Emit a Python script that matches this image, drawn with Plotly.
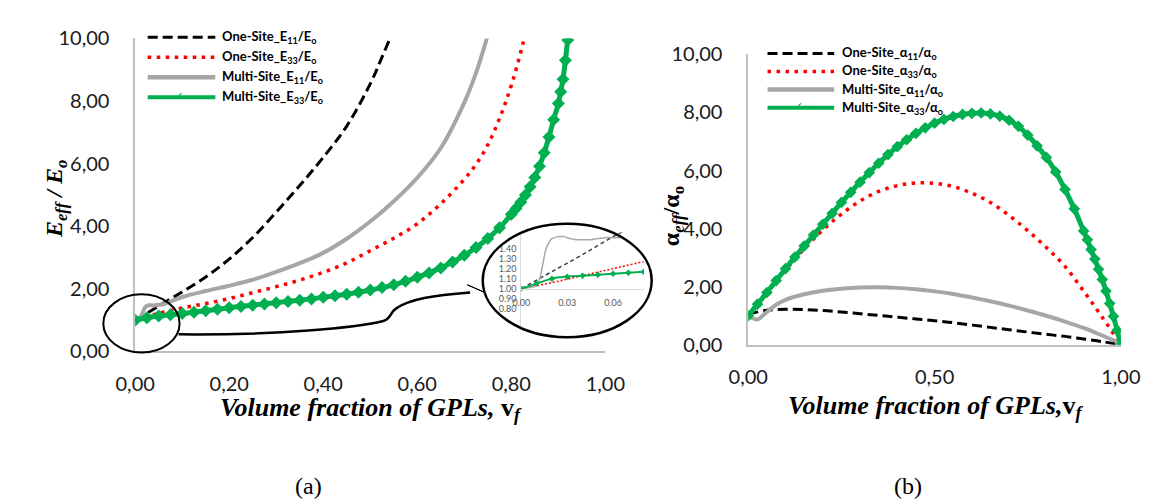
import plotly.graph_objects as go

W, H = 1158, 504

# ---------------- (a) effective Young's modulus ----------------
a_v_os11 = [0, 0.025, 0.05, 0.075, 0.1, 0.15, 0.2, 0.25, 0.3, 0.35, 0.4, 0.45, 0.5, 0.525, 0.55, 0.56]
a_os11 = [1.00, 1.22, 1.45, 1.68, 1.90, 2.38, 2.95, 3.64, 4.45, 5.30, 6.20, 7.20, 8.55, 9.40, 10.30, 10.70]

a_v_os33 = [0, 0.05, 0.1, 0.15, 0.2, 0.25, 0.3, 0.35, 0.4, 0.45, 0.5, 0.55, 0.6, 0.65, 0.7,
            0.725, 0.75, 0.775, 0.8, 0.825, 0.84]
a_os33 = [1.00, 1.22, 1.39, 1.53, 1.69, 1.88, 2.07, 2.28, 2.53, 2.83, 3.22, 3.62, 4.08, 4.72, 5.50,
          5.98, 6.60, 7.45, 8.50, 9.85, 10.80]

a_v_ms11 = [0, 0.005, 0.01, 0.015, 0.02, 0.025, 0.03, 0.04, 0.05, 0.06, 0.1, 0.15, 0.2, 0.25, 0.3,
            0.35, 0.4, 0.45, 0.5, 0.55, 0.6, 0.65, 0.7, 0.725, 0.75, 0.76]
a_ms11 = [1.00, 1.01, 1.05, 1.20, 1.38, 1.46, 1.48, 1.47, 1.49, 1.51, 1.74, 1.93, 2.10, 2.29, 2.54,
          2.82, 3.15, 3.60, 4.15, 4.80, 5.55, 6.50, 7.95, 8.90, 10.10, 10.60]

a_v_ms33 = [0, 0.025, 0.05, 0.075, 0.1, 0.125, 0.15, 0.175, 0.2, 0.225, 0.25, 0.275, 0.3, 0.325,
            0.35, 0.375, 0.4, 0.425, 0.45, 0.475, 0.5, 0.525, 0.55, 0.575, 0.6, 0.625, 0.65, 0.675,
            0.7, 0.725, 0.75, 0.775, 0.8, 0.81, 0.82, 0.83, 0.84, 0.85, 0.86, 0.87, 0.88, 0.89,
            0.9, 0.905, 0.91, 0.915, 0.92, 0.925]
a_ms33 = [1.00, 1.08, 1.13, 1.17, 1.21, 1.25, 1.30, 1.35, 1.40, 1.44, 1.48, 1.52, 1.56, 1.60,
          1.64, 1.68, 1.73, 1.78, 1.83, 1.89, 1.96, 2.04, 2.13, 2.24, 2.37, 2.51, 2.67, 2.86,
          3.07, 3.32, 3.61, 3.95, 4.38, 4.57, 4.77, 5.00, 5.26, 5.56, 5.92, 6.35, 6.85, 7.40,
          7.92, 8.30, 8.70, 9.30, 9.95, 10.50]

# inset (zoom of the origin region)
in_v_ms11 = [0, 0.005, 0.01, 0.012, 0.014, 0.016, 0.018, 0.02, 0.024, 0.028, 0.032, 0.036, 0.04,
             0.045, 0.05, 0.055, 0.06, 0.065]
in_ms11 = [1.00, 1.01, 1.03, 1.10, 1.24, 1.39, 1.46, 1.50, 1.52, 1.52, 1.50, 1.49, 1.49, 1.49,
           1.50, 1.51, 1.51, 1.51]
in_v_os11 = [0, 0.02, 0.04, 0.06, 0.07]
in_os11 = [1.00, 1.17, 1.34, 1.52, 1.60]
in_v_os33 = [0, 0.02, 0.04, 0.06, 0.08]
in_os33 = [1.00, 1.06, 1.13, 1.20, 1.27]
in_v_ms33 = [0, 0.01, 0.02, 0.03, 0.04, 0.05, 0.06, 0.07, 0.08]
in_ms33 = [1.00, 1.05, 1.10, 1.12, 1.13, 1.14, 1.15, 1.16, 1.17]

# ---------------- (b) effective CTE ----------------
b_v = [0, 0.05, 0.1, 0.15, 0.2, 0.25, 0.3, 0.35, 0.4, 0.45, 0.5, 0.55, 0.6, 0.65, 0.7, 0.75,
       0.8, 0.85, 0.9, 0.95, 1.0]
b_os11 = [1.05, 1.19, 1.22, 1.21, 1.18, 1.13, 1.07, 1.01, 0.95, 0.89, 0.83, 0.76, 0.68, 0.60,
          0.52, 0.44, 0.36, 0.29, 0.20, 0.11, 0.00]
b_os33 = [1.00, 1.78, 2.57, 3.30, 3.95, 4.50, 4.95, 5.28, 5.48, 5.57, 5.56, 5.45, 5.22, 4.90,
          4.45, 3.93, 3.35, 2.70, 1.85, 0.95, 0.00]

b_v_ms11 = [0, 0.01, 0.025, 0.04, 0.05, 0.075, 0.1, 0.15, 0.2, 0.25, 0.3, 0.35, 0.4, 0.45, 0.5,
            0.55, 0.6, 0.65, 0.7, 0.75, 0.8, 0.85, 0.9, 0.95, 1.0]
b_ms11 = [0.98, 0.93, 0.87, 1.02, 1.13, 1.38, 1.55, 1.74, 1.86, 1.93, 1.97, 1.98, 1.96, 1.91,
          1.84, 1.75, 1.63, 1.50, 1.35, 1.18, 1.00, 0.80, 0.58, 0.32, 0.05]

b_v_ms33 = [0, 0.025, 0.05, 0.075, 0.1, 0.125, 0.15, 0.175, 0.2, 0.225, 0.25, 0.275, 0.3, 0.325,
            0.35, 0.375, 0.4, 0.425, 0.45, 0.475, 0.5, 0.525, 0.55, 0.575, 0.6, 0.625, 0.65,
            0.675, 0.7, 0.725, 0.75, 0.775, 0.8, 0.825, 0.85, 0.875, 0.9, 0.91, 0.92, 0.93,
            0.94, 0.95, 0.96, 0.97, 0.98, 0.99, 1.0]
b_ms33 = [1.00, 1.40, 1.80, 2.21, 2.62, 3.02, 3.40, 3.78, 4.15, 4.52, 4.90, 5.25, 5.60, 5.93,
          6.25, 6.55, 6.82, 7.06, 7.28, 7.47, 7.63, 7.76, 7.86, 7.93, 7.97, 7.98, 7.95,
          7.87, 7.73, 7.52, 7.22, 6.85, 6.45, 5.95, 5.35, 4.68, 3.92, 3.62, 3.28, 2.95,
          2.60, 2.25, 1.85, 1.42, 0.98, 0.50, 0.00]

# ---------------- tick labels / texts ----------------
y_tickvals = [0, 2, 4, 6, 8, 10]
y_ticktext = ["0,00", "2,00", "4,00", "6,00", "8,00", "10,00"]
a_x_tickvals = [0, 0.2, 0.4, 0.6, 0.8, 1.0]
a_x_ticktext = ["0,00", "0,20", "0,40", "0,60", "0,80", "1,00"]
b_x_tickvals = [0, 0.5, 1.0]
b_x_ticktext = ["0,00", "0,50", "1,00"]
in_x_tickvals = [0, 0.03, 0.06]
in_x_ticktext = ["0.00", "0.03", "0.06"]
in_y_tickvals = [0.8, 0.9, 1.0, 1.1, 1.2, 1.3, 1.4]
in_y_ticktext = ["0.80", "0.90", "1.00", "1.10", "1.20", "1.30", "1.40"]

a_names = ["One-Site_E<sub>11</sub>/E<sub>o</sub>", "One-Site_E<sub>33</sub>/E<sub>o</sub>",
           "Multi-Site_E<sub>11</sub>/E<sub>o</sub>", "Multi-Site_E<sub>33</sub>/E<sub>o</sub>"]
b_names = ["One-Site_α<sub>11</sub>/α<sub>o</sub>", "One-Site_α<sub>33</sub>/α<sub>o</sub>",
           "Multi-Site_α<sub>11</sub>/α<sub>o</sub>", "Multi-Site_α<sub>33</sub>/α<sub>o</sub>"]

# ---------------- styles ----------------
BLACK, RED, GRAY, GREEN = "#000000", "#FF0000", "#A6A6A6", "#00B050"
AXC = "#BFBFBF"
SANS = "Lato, Carlito, Calibri, 'Open Sans', sans-serif"
SERIF = "'Liberation Serif', 'Times New Roman', serif"
DASH = "10px,5px"
DOT = "3.5px,5.5px"


def px(x):
    return x / W


def py(y):
    return 1 - y / H


def ppath(segments):
    out = []
    for cmd, pts in segments:
        out.append(cmd + " " + " ".join("%.5f,%.5f" % (px(x), py(y)) for x, y in pts))
    return " ".join(out)


fig = go.Figure()

styles = [
    dict(line=dict(color=BLACK, width=3, dash=DASH), mode="lines"),
    dict(line=dict(color=RED, width=3.5, dash=DOT), mode="lines"),
    dict(line=dict(color=GRAY, width=4), mode="lines"),
    dict(line=dict(color=GREEN, width=5), mode="lines+markers",
         marker=dict(symbol="diamond", size=10, color=GREEN)),
]

a_series = [(a_v_os11, a_os11), (a_v_os33, a_os33), (a_v_ms11, a_ms11), (a_v_ms33, a_ms33)]
for (xv, yv), st, nm in zip(a_series, styles, a_names):
    fig.add_trace(go.Scatter(x=xv, y=yv, name=nm, xaxis="x", yaxis="y", showlegend=False,
                             line_shape="spline", **st))

b_series = [(b_v, b_os11), (b_v, b_os33), (b_v_ms11, b_ms11), (b_v_ms33, b_ms33)]
for (xv, yv), st, nm in zip(b_series, styles, b_names):
    st = dict(st)
    if "marker" in st:
        st["marker"] = dict(symbol="diamond", size=9, color=GREEN)
    fig.add_trace(go.Scatter(x=xv, y=yv, name=nm, xaxis="x2", yaxis="y2", showlegend=False,
                             line_shape="spline", **st))

in_styles = [
    dict(line=dict(color="#404040", width=1.5, dash="4px,3px"), mode="lines"),
    dict(line=dict(color=RED, width=1.5, dash="2px,2px"), mode="lines"),
    dict(line=dict(color=GRAY, width=1.5), mode="lines"),
    dict(line=dict(color=GREEN, width=2), mode="lines+markers",
         marker=dict(symbol="diamond", size=5, color=GREEN)),
]
in_series = [(in_v_os11, in_os11), (in_v_os33, in_os33), (in_v_ms11, in_ms11), (in_v_ms33, in_ms33)]
for (xv, yv), st, nm in zip(in_series, in_styles, a_names):
    fig.add_trace(go.Scatter(x=xv, y=yv, name=nm + " (zoom)", xaxis="x3", yaxis="y3",
                             showlegend=False, line_shape="spline", **st))

tickfont = dict(family=SANS, size=20, color="#1a1a1a")
common = dict(showgrid=False, zeroline=False, showline=True, linecolor=AXC, linewidth=1.5,
              ticks="", tickfont=tickfont, fixedrange=True)

fig.update_layout(
    width=W, height=H, autosize=False,
    margin=dict(l=0, r=0, t=0, b=0),
    paper_bgcolor="white", plot_bgcolor="white",
    showlegend=False,
    xaxis=dict(domain=[px(111), px(598)], range=[0, 1.0], anchor="y",
               tickvals=a_x_tickvals, ticktext=a_x_ticktext, ticklabelstandoff=14, **common),
    yaxis=dict(domain=[py(347), py(18.3)], range=[0, 10], anchor="x",
               tickvals=y_tickvals, ticktext=y_ticktext, ticklabelstandoff=20, **common),
    xaxis2=dict(domain=[px(746), px(1132)], range=[0, 1.0], anchor="y2",
                tickvals=b_x_tickvals, ticktext=b_x_ticktext, ticklabelstandoff=13, **common),
    yaxis2=dict(domain=[py(340), py(35)], range=[0, 10], anchor="x2",
                tickvals=y_tickvals, ticktext=y_ticktext, ticklabelstandoff=20, **common),
    xaxis3=dict(domain=[px(511), px(638)], range=[0, 0.0802], anchor="free", position=py(281),
                showgrid=False, zeroline=False, showline=True, linecolor="#D9D9D9", linewidth=1,
                ticks="", tickvals=in_x_tickvals, ticktext=in_x_ticktext,
                tickfont=dict(family=SANS, size=9, color="#595959"), ticklabelstandoff=6,
                fixedrange=True),
    yaxis3=dict(domain=[py(323), py(222)], range=[0.6, 1.562], anchor="x3",
                showgrid=False, zeroline=False, showline=True, linecolor="#D9D9D9", linewidth=1,
                ticks="", tickvals=in_y_tickvals, ticktext=in_y_ticktext,
                tickfont=dict(family=SANS, size=9, color="#595959"), ticklabelstandoff=2,
                fixedrange=True),
)

shapes = []
annotations = []

# ellipse around origin, inset frame, connecting arrow
shapes.append(dict(type="circle", xref="paper", yref="paper", x0=px(78), x1=px(157),
                   y0=py(348), y1=py(287), line=dict(color=BLACK, width=2)))
shapes.append(dict(type="circle", xref="paper", yref="paper", x0=px(471), x1=px(646),
                   y0=py(332), y1=py(213), line=dict(color=BLACK, width=2.5)))
shapes.append(dict(type="path", xref="paper", yref="paper",
                   path=ppath([("M", [(156, 329)]),
                               ("C", [(260, 330), (340, 322), (368, 315)]),
                               ("C", [(376, 313), (375, 306), (381, 302)]),
                               ("C", [(395, 292), (420, 288), (458, 285)])]),
                   line=dict(color=BLACK, width=2.5)))
shapes.append(dict(type="path", xref="paper", yref="paper",
                   path=ppath([("M", [(473, 285)]), ("L", [(455, 277), (455, 293)]), ("Z", [])]),
                   fillcolor=BLACK, line=dict(color=BLACK, width=1)))

# legends (drawn)
leg_styles = [dict(color=BLACK, width=3, dash=DASH), dict(color=RED, width=3.5, dash=DOT),
              dict(color=GRAY, width=4.5), dict(color=GREEN, width=4)]


def draw_legend(x0, x1, xt, ys, names):
    for yy, ls, nm in zip(ys, leg_styles, names):
        shapes.append(dict(type="line", xref="paper", yref="paper", x0=px(x0), x1=px(x1),
                           y0=py(yy), y1=py(yy), line=ls))
        annotations.append(dict(xref="paper", yref="paper", x=px(xt), y=py(yy), xanchor="left",
                                yanchor="middle", showarrow=False, text="<b>%s</b>" % nm,
                                font=dict(family=SANS, size=13, color="#000")))
    xm = (x0 + x1) / 2
    yg = ys[3]
    shapes.append(dict(type="path", xref="paper", yref="paper",
                       path=ppath([("M", [(xm - 4, yg)]),
                                   ("L", [(xm, yg - 4.5), (xm + 4, yg), (xm, yg + 4.5)]),
                                   ("Z", [])]),
                       fillcolor=GREEN, line=dict(color=GREEN, width=1)))


draw_legend(124, 194, 199, [17, 38, 59, 80], a_names)
draw_legend(766, 835, 841, [34, 53, 72, 91], b_names)

# axis titles
annotations += [
    dict(xref="paper", yref="paper", x=px(355), y=py(407), xanchor="center", yanchor="middle",
         showarrow=False, text="<b><i>Volume fraction of GPLs, </i>v<sub><i>f</i></sub></b>",
         font=dict(family=SERIF, size=26, color="#000")),
    dict(xref="paper", yref="paper", x=px(940), y=py(405), xanchor="center", yanchor="middle",
         showarrow=False, text="<b><i>Volume fraction of GPLs,</i>v<sub><i>f</i></sub></b>",
         font=dict(family=SERIF, size=26, color="#000")),
    dict(xref="paper", yref="paper", x=px(29), y=py(187), xanchor="center", yanchor="middle",
         showarrow=False, textangle=-90,
         text="<b><i>E<sub>eff</sub> / E<sub>o</sub></i></b>",
         font=dict(family=SERIF, size=24, color="#000")),
    dict(xref="paper", yref="paper", x=px(668), y=py(205), xanchor="center", yanchor="middle",
         showarrow=False, textangle=-90,
         text="<b>α<sub><i>eff</i></sub>/α<sub>o</sub></b>",
         font=dict(family=SERIF, size=24, color="#000")),
    dict(xref="paper", yref="paper", x=px(291), y=py(488), xanchor="center", yanchor="middle",
         showarrow=False, text="(a)", font=dict(family=SERIF, size=24, color="#000")),
    dict(xref="paper", yref="paper", x=px(911), y=py(488), xanchor="center", yanchor="middle",
         showarrow=False, text="(b)", font=dict(family=SERIF, size=24, color="#000")),
]

fig.update_layout(shapes=shapes, annotations=annotations)
fig.write_html("out.html")
